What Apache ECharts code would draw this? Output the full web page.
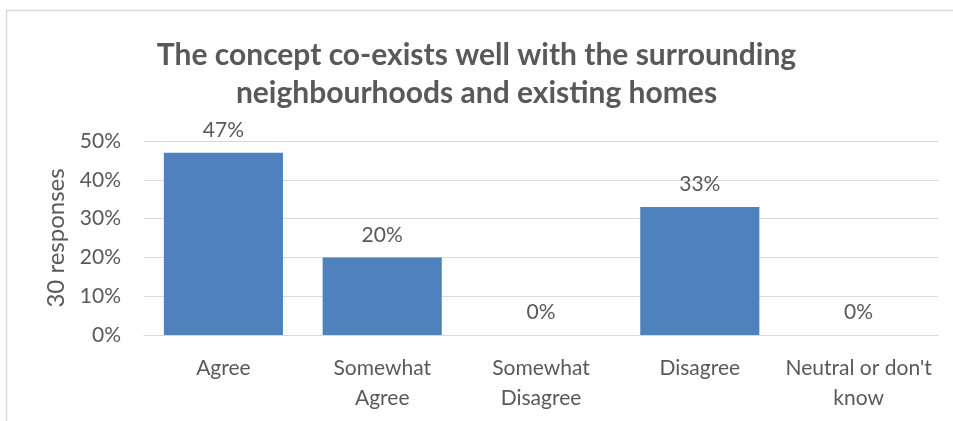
<!DOCTYPE html>
<html>
<head>
<meta charset="utf-8">
<script src="https://cdn.jsdelivr.net/npm/echarts@6/dist/echarts.min.js"></script>
<style>
  html, body { margin: 0; padding: 0; background: #fff; }
  #chart { width: 953px; height: 421px; }
</style>
</head>
<body>
<div id="chart"></div>
<script>
// Survey answers for one statement, as a share of all responses
const titleText = 'The concept co-exists well with the surrounding\nneighbourhoods and existing homes';
const categories = ['Agree', 'Somewhat\nAgree', 'Somewhat\nDisagree', 'Disagree', "Neutral or don't\nknow"];
const shares = [47, 20, 0, 33, 0];
const yTicks = [0, 10, 20, 30, 40, 50];
const yAxisTitle = '30 responses';

const FONT = 'Lato';
const TEXT = '#595959';

const chart = echarts.init(document.getElementById('chart'), null, { renderer: 'canvas' });

chart.setOption({
  animation: false,
  backgroundColor: '#ffffff',
  textStyle: { fontFamily: FONT },
  graphic: [{
    type: 'rect',
    shape: { x: 6.5, y: 10.5, width: 980, height: 440 },
    style: { fill: 'none', stroke: '#d9d9d9', lineWidth: 1.5 },
    silent: true,
    z: -1
  }],
  title: {
    text: titleText,
    left: 'center',
    top: 31,
    textStyle: {
      fontFamily: FONT,
      fontWeight: 'bold',
      fontSize: 30,
      color: TEXT,
      lineHeight: 38
    }
  },
  grid: { left: 144, right: 15, top: 141, bottom: 86 },
  xAxis: {
    type: 'category',
    data: categories,
    axisLine: { show: true, lineStyle: { color: '#d9d9d9', width: 1 } },
    axisTick: { show: false },
    axisLabel: {
      interval: 0,
      fontFamily: FONT,
      fontSize: 21,
      color: TEXT,
      lineHeight: 30,
      margin: 18
    }
  },
  yAxis: {
    type: 'value',
    min: yTicks[0],
    max: yTicks[yTicks.length - 1],
    interval: yTicks[1] - yTicks[0],
    name: yAxisTitle,
    nameLocation: 'middle',
    nameRotate: 90,
    nameGap: 76,
    nameTextStyle: { fontFamily: FONT, fontSize: 24, color: TEXT },
    axisLine: { show: false },
    axisTick: { show: false },
    splitLine: { lineStyle: { color: '#d9d9d9', width: 1 } },
    axisLabel: {
      formatter: v => v + '%',
      fontFamily: FONT,
      fontSize: 21,
      color: TEXT,
      margin: 23
    }
  },
  series: [{
    type: 'bar',
    data: shares,
    barCategoryGap: '25%',
    itemStyle: { color: '#4f81bd' },
    label: {
      show: true,
      position: 'top',
      distance: 12,
      formatter: p => p.value + '%',
      fontFamily: FONT,
      fontSize: 21,
      color: TEXT
    }
  }]
});
</script>
</body>
</html>
